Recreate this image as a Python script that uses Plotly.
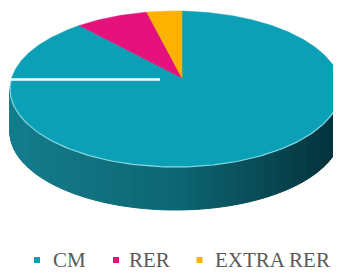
import numpy as np
import plotly.graph_objects as go

# ---- data ----
categories = ["CM", "RER", "EXTRA RER"]
values = [89.5, 7.1, 3.4]
top_colors = ["#0ba0b6", "#e5127b", "#fbb300"]

# ---- page / geometry (coordinates are page pixels, y downwards) ----
W, H = 341, 273
BODY = 8  # default page margin around the plot div
cx, cy, rx, ry = 175.5, 89.0, 165.5, 78.0
apx, apy = 182.0, 78.0
depth = 43.0

# legend layout (marker x, text x)
leg_marker_x = [37, 116, 199.5]
leg_text_x = [50.5, 127, 213]
leg_y = 260


def P(t):
    t = np.radians(t)
    return cx + rx * np.sin(t), cy - ry * np.cos(t)


def lerp_col(c1, c2, f):
    a = [int(c1[i:i + 2], 16) for i in (1, 3, 5)]
    b = [int(c2[i:i + 2], 16) for i in (1, 3, 5)]
    return "#%02x%02x%02x" % tuple(int(round(a[k] + (b[k] - a[k]) * f)) for k in range(3))


def side_color(x):
    f = (x - (cx - rx)) / (2 * rx)
    if f < 0.5:
        return lerp_col("#147d8c", "#0d6673", f / 0.5)
    return lerp_col("#0d6673", "#04303a", (f - 0.5) / 0.5)


fig = go.Figure()

# side wall (front half), shaded strips
N = 180
ts = np.linspace(90, 270, N + 1)
for i in range(N):
    x1, y1 = P(ts[i])
    x2, y2 = P(ts[i + 1])
    col = side_color((x1 + x2) / 2)
    fig.add_trace(go.Scatter(
        x=[x1, x2, x2, x1, x1], y=[y1, y2, y2 + depth, y1 + depth, y1],
        mode="lines", fill="toself", fillcolor=col,
        line=dict(color=col, width=1), hoverinfo="skip", showlegend=False))

# top face slices
t0 = np.degrees(np.arcsin((apx - cx) / rx))
total = sum(values)
start = t0
for name, v, col in zip(categories, values, top_colors):
    span = 360.0 * v / total
    tt = np.linspace(start, start + span, max(int(span * 2), 4))
    xs, ys = P(tt)
    fig.add_trace(go.Scatter(
        x=np.concatenate([[apx], xs, [apx]]), y=np.concatenate([[apy], ys, [apy]]),
        mode="lines", fill="toself", fillcolor=col, name=name,
        line=dict(color=col, width=0.5), hoverinfo="skip", showlegend=False))
    start += span

# light rim highlight along the front edge of the top face
th = np.linspace(84, 276, 200)
hx, hy = P(th)
fig.add_trace(go.Scatter(x=hx, y=hy, mode="lines",
                         line=dict(color="rgba(150,222,232,0.9)", width=1.2),
                         hoverinfo="skip", showlegend=False))

# legend (markers + labels)
fig.add_trace(go.Scatter(x=leg_marker_x, y=[leg_y] * 3, mode="markers",
                         marker=dict(symbol="square", size=6, color=top_colors,
                                     line=dict(width=0)),
                         hoverinfo="skip", showlegend=False))
annotations = [dict(x=tx, y=leg_y, xref="x", yref="y", text=name, showarrow=False,
                    xanchor="left", yanchor="middle",
                    font=dict(family="Liberation Serif", size=21, color="#595959"))
               for tx, name in zip(leg_text_x, categories)]

fig.update_layout(
    width=W - BODY, height=H - BODY,
    margin=dict(l=0, r=0, t=0, b=0),
    paper_bgcolor="white", plot_bgcolor="white",
    xaxis=dict(range=[BODY, W], visible=False, fixedrange=True),
    yaxis=dict(range=[H, BODY], visible=False, fixedrange=True),
    showlegend=False,
    annotations=annotations,
    shapes=[dict(type="line", xref="x", yref="y", x0=10, x1=160, y0=79.5, y1=79.5,
                 line=dict(color="white", width=2.5))],
)

fig.write_html("out.html")
